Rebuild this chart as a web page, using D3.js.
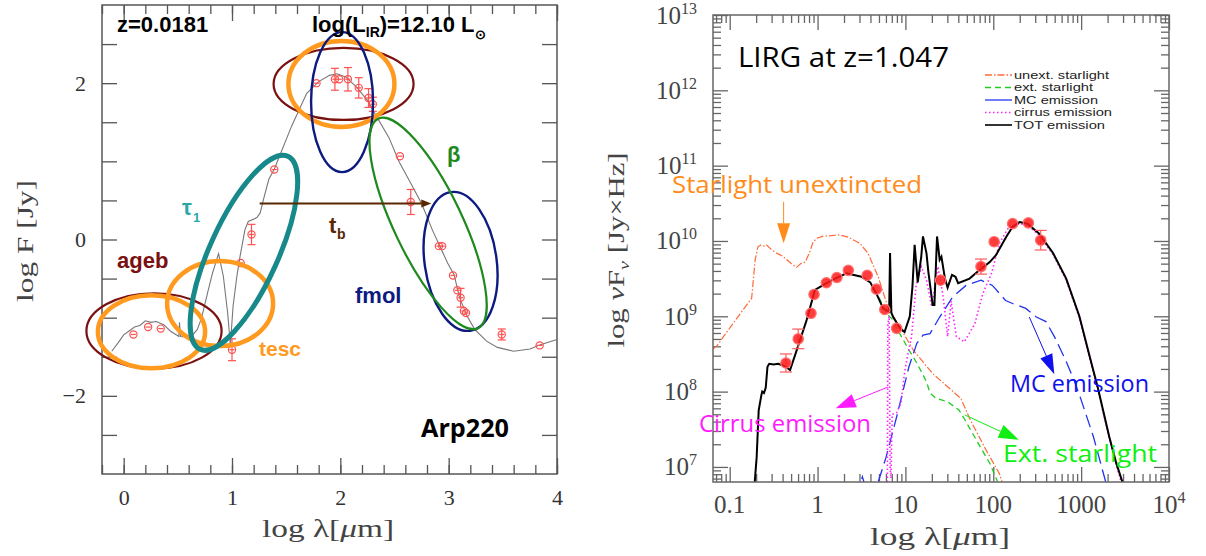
<!DOCTYPE html>
<html>
<head>
<meta charset="utf-8">
<script src="https://cdn.jsdelivr.net/npm/d3@7"></script>
<style>
  body { margin: 0; background: #fff; }
  svg { display: block; }
</style>
</head>
<body>
<svg id="chart" width="1206" height="556"></svg>
<script>
// ---------- left panel: Arp220 (log lambda [um], log F [Jy]) ----------
const arpModel = [[-0.11,-1.43],[-0.05,-1.32],[0.0,-1.22],[0.05,-1.17],[0.1,-1.12],[0.15,-1.1],[0.2,-1.04],
  [0.25,-1.06],[0.3,-1.05],[0.37,-1.09],[0.43,-1.17],[0.51,-1.24],[0.515,-1.06],[0.525,-1.24],[0.62,-1.25],
  [0.68,-1.15],[0.72,-1.0],[0.78,-0.65],[0.82,-0.43],[0.876,-0.18],[0.92,-0.47],[0.96,-0.94],[0.985,-1.35],
  [1.01,-0.85],[1.045,-0.47],[1.075,-0.21],[1.12,0.13],[1.15,0.23],[1.23,0.28],[1.26,0.34],[1.29,0.51],
  [1.34,0.77],[1.39,0.9],[1.55,1.45],[1.69,1.87],[1.8,2.02],[1.9,2.1],[1.97,2.12],[2.05,2.08],[2.15,1.95],
  [2.25,1.78],[2.34,1.56],[2.45,1.3],[2.54,1.0],[2.65,0.72],[2.75,0.46],[2.85,0.12],[2.92,-0.09],[2.99,-0.3],
  [3.05,-0.45],[3.10,-0.74],[3.17,-0.98],[3.24,-1.15],[3.35,-1.3],[3.45,-1.38],[3.6,-1.43],[3.75,-1.4],
  [3.84,-1.35],[4.0,-1.28]];
// [log lambda, log F, error]
const arpObs = [[0.09,-1.215,0],[0.226,-1.12,0],[0.342,-1.14,0],[1.0,-1.41,0.14],[1.08,-0.30,0],
  [1.18,0.064,0.13],[1.39,0.895,0],[1.78,2.0,0],[1.95,2.05,0.14],[1.99,2.05,0],[2.07,2.05,0.15],
  [2.17,1.94,0.13],[2.26,1.81,0.12],[2.30,1.73,0.09],[2.55,1.065,0],[2.65,0.48,0.16],[2.91,-0.085,0],
  [2.94,-0.085,0],[3.04,-0.46,0],[3.08,-0.65,0],[3.11,-0.745,0.12],[3.14,-0.915,0],[3.16,-0.94,0],
  [3.49,-1.215,0.07],[3.84,-1.355,0]];
const arpXTicks = [0, 1, 2, 3, 4];
const arpYLabels = [-2, 0, 2];

// ---------- right panel: LIRG at z=1.047 (log10 lambda, log10 nuFnu) ----------
const lirgUnext = [[-1.19,8.57],[-1.15,8.6],[-0.99,8.86],[-0.75,9.24],[-0.71,9.75],[-0.68,9.92],[-0.65,9.945],
  [-0.6,9.93],[-0.58,9.945],[-0.52,9.88],[-0.46,9.835],[-0.40,9.8],[-0.35,9.75],[-0.30,9.7],[-0.24,9.65],
  [-0.19,9.7],[-0.14,9.72],[-0.09,9.85],[-0.05,9.99],[0.0,10.04],[0.065,10.065],[0.15,10.07],[0.25,10.08],
  [0.35,10.05],[0.48,9.97],[0.575,9.835],[0.69,9.525],[0.80,9.125],[0.935,8.86],[1.09,8.55],[1.31,8.24],
  [1.50,8.045],[1.63,7.91],[1.74,7.62],[1.92,7.22],[2.07,6.91],[2.10,6.8]];
const lirgExt = [[0.70,9.25],[0.75,9.12],[0.80,9.02],[0.86,8.95],[0.90,8.84],[0.97,8.7],[1.04,8.55],
  [1.10,8.44],[1.17,8.29],[1.24,8.13],[1.28,7.98],[1.35,7.91],[1.48,7.865],[1.61,7.755],[1.68,7.62],
  [1.83,7.31],[1.96,7.05],[2.05,6.8]];
const lirgMC = [[0.44,6.6],[0.51,6.87],[0.58,6.6],[0.66,6.5],[0.69,6.8],[0.78,7.13],[0.91,7.71],[1.04,8.33],
  [1.13,8.64],[1.2,8.75],[1.28,8.77],[1.39,8.99],[1.54,9.26],[1.69,9.41],[1.86,9.48],[1.99,9.41],[2.14,9.21],
  [2.22,9.17],[2.37,9.105],[2.49,8.99],[2.60,8.93],[2.70,8.72],[2.83,8.40],[2.92,8.15],[3.0,7.89],[3.14,7.40],
  [3.28,6.8]];
const lirgCirrus = [[0.795,6.8],[0.80,8.9],[0.815,9.0],[0.825,7.0],[0.835,6.85],[0.85,7.7],[0.9,7.72],
  [0.95,7.85],[0.99,8.25],[1.02,8.45],[1.07,8.73],[1.12,9.39],[1.18,9.66],[1.24,9.48],[1.30,9.13],[1.37,9.66],
  [1.43,9.26],[1.48,8.73],[1.52,9.2],[1.58,8.73],[1.67,8.66],[1.79,8.9],[1.88,9.3],[1.98,9.57],[2.07,9.97],
  [2.18,10.19],[2.30,10.23],[2.39,10.21],[2.52,10.08],[2.68,9.82],[2.83,9.48],[2.98,8.98],[3.09,8.48],
  [3.19,8.03],[3.32,7.38],[3.40,7.03],[3.46,6.78]];
const lirgTot = [[-0.715,6.8],[-0.693,7.13],[-0.67,7.75],[-0.64,7.95],[-0.63,8.0],[-0.61,7.98],[-0.59,8.05],
  [-0.57,8.33],[-0.55,8.37],[-0.5,8.36],[-0.45,8.37],[-0.40,8.35],[-0.35,8.32],[-0.313,8.285],[-0.237,8.55],
  [-0.124,8.95],[-0.03,9.35],[0.103,9.44],[0.2,9.5],[0.33,9.57],[0.5,9.525],[0.6,9.45],[0.67,9.30],
  [0.746,9.105],[0.815,9.06],[0.825,9.84],[0.84,9.05],[0.86,8.99],[0.94,8.84],[0.99,8.79],[1.05,9.0],
  [1.08,9.39],[1.105,9.95],[1.14,9.45],[1.18,9.79],[1.2,10.06],[1.24,9.835],[1.26,9.6],[1.31,9.15],
  [1.33,9.15],[1.36,10.06],[1.39,9.75],[1.41,9.79],[1.45,9.5],[1.48,9.38],[1.53,9.55],[1.57,9.525],
  [1.60,9.44],[1.73,9.5],[1.84,9.61],[1.96,9.72],[2.03,9.81],[2.15,10.06],[2.22,10.19],[2.30,10.25],
  [2.39,10.23],[2.52,10.10],[2.68,9.84],[2.83,9.50],[2.98,9.0],[3.09,8.5],[3.19,8.05],[3.32,7.4],
  [3.40,7.05],[3.47,6.8]];
// [log lambda, log nuFnu, error in dex]
const lirgObs = [[-0.36,8.38,0.12],[-0.22,8.70,0.13],[-0.075,9.04,0],[-0.04,9.29,0],[0.10,9.445,0],
  [0.22,9.515,0],[0.35,9.61,0],[0.565,9.545,0],[0.67,9.36,0],[0.765,9.09,0],[0.90,8.84,0],[1.40,9.48,0],
  [1.86,9.66,0.1],[2.01,9.99,0],[2.22,10.23,0],[2.40,10.24,0],[2.54,10.01,0.13]];
const sedXTicks = [0.1, 1, 10, 100, 1000, 10000];
const sedXLabels = ["0.1", "1", "10", "100", "1000", "10|4"];
const sedYExp = [7, 8, 9, 10, 11, 12, 13];
const legendNames = ["unext. starlight", "ext. starlight", "MC emission", "cirrus emission", "TOT emission"];

const svg = d3.select("#chart");
const serif = "'Liberation Serif','DejaVu Serif',serif";
const sans = "'Liberation Sans',Arial,sans-serif";
const comic = "'Comic Sans MS','Open Sans',sans-serif";

function styleTicks(g, color) {
  g.select(".domain").remove();
  g.selectAll("line").attr("stroke", color).attr("stroke-width", 1.3);
  g.attr("font-family", serif);
}

function arrow(g, x1, y1, x2, y2, color, lw, headLen, headW) {
  const a = Math.atan2(y2 - y1, x2 - x1);
  const bx = x2 - headLen * Math.cos(a), by = y2 - headLen * Math.sin(a);
  g.append("line").attr("x1", x1).attr("y1", y1).attr("x2", bx).attr("y2", by)
    .attr("stroke", color).attr("stroke-width", lw);
  const px = -Math.sin(a) * headW / 2, py = Math.cos(a) * headW / 2;
  g.append("polygon")
    .attr("points", [[x2, y2], [bx + px, by + py], [bx - px, by - py]].map(p => p.join(",")).join(" "))
    .attr("fill", color);
}

// ================= LEFT PANEL =================
const xL = d3.scaleLinear().domain([-0.2, 4]).range([102, 557]);
const yL = d3.scaleLinear().domain([-3, 3]).range([474, 5]);
const left = svg.append("g");

const minorX = d3.range(0, 22).map(i => +(-0.2 + i * 0.2).toFixed(1));
const halfY = d3.range(-2.5, 2.51, 0.5);

left.append("g").attr("transform", "translate(0,474)")
  .call(d3.axisBottom(xL).tickValues(minorX).tickSize(-9).tickFormat(""))
  .call(g => styleTicks(g, "#555"));
left.append("g").attr("transform", "translate(0,474)")
  .call(d3.axisBottom(xL).tickValues(arpXTicks).tickSize(-16).tickPadding(15).tickFormat(d3.format("d")))
  .call(g => styleTicks(g, "#555"))
  .attr("font-size", 22).call(g => g.selectAll("text").attr("fill", "#333"));
left.append("g").attr("transform", "translate(0,5)")
  .call(d3.axisTop(xL).tickValues(minorX).tickSize(-9).tickFormat(""))
  .call(g => styleTicks(g, "#555"));
left.append("g").attr("transform", "translate(0,5)")
  .call(d3.axisTop(xL).tickValues(arpXTicks).tickSize(-16).tickFormat(""))
  .call(g => styleTicks(g, "#555"));
left.append("g").attr("transform", "translate(102,0)")
  .call(d3.axisLeft(yL).tickValues(halfY).tickSize(-15).tickPadding(16)
    .tickFormat(d => arpYLabels.includes(d) ? d3.format("d")(d) : ""))
  .call(g => styleTicks(g, "#555"))
  .attr("font-size", 22).call(g => g.selectAll("text").attr("fill", "#333"));
left.append("g").attr("transform", "translate(557,0)")
  .call(d3.axisRight(yL).tickValues(halfY).tickSize(-15).tickFormat(""))
  .call(g => styleTicks(g, "#555"));

left.append("rect").attr("x", 102).attr("y", 5).attr("width", 455).attr("height", 469)
  .attr("fill", "none").attr("stroke", "#555").attr("stroke-width", 1.5);

// axis titles
left.append("text").attr("x", 328).attr("y", 537).attr("text-anchor", "middle")
  .attr("font-family", serif).attr("font-size", 26).attr("fill", "#444")
  .attr("textLength", 132).attr("lengthAdjust", "spacingAndGlyphs")
  .call(t => {
    t.append("tspan").text("log  λ[");
    t.append("tspan").attr("font-style", "italic").text("μ");
    t.append("tspan").text("m]");
  });
left.append("text").attr("transform", "translate(33,241) rotate(-90)").attr("text-anchor", "middle")
  .attr("font-family", serif).attr("font-size", 23).attr("fill", "#444")
  .attr("textLength", 122).attr("lengthAdjust", "spacingAndGlyphs")
  .text("log F [Jy]");

// model and photometry
left.append("path").datum(arpModel)
  .attr("d", d3.line().x(d => xL(d[0])).y(d => yL(d[1])))
  .attr("fill", "none").attr("stroke", "#777").attr("stroke-width", 1.1);

const obsL = left.append("g").attr("stroke", "#ff5050").attr("fill", "none").attr("stroke-width", 1.2);
arpObs.filter(d => d[2] > 0).forEach(d => {
  const x = xL(d[0]), y0 = yL(d[1] - d[2]), y1 = yL(d[1] + d[2]);
  obsL.append("line").attr("x1", x).attr("x2", x).attr("y1", y0).attr("y2", y1);
  obsL.append("line").attr("x1", x - 4).attr("x2", x + 4).attr("y1", y0).attr("y2", y0);
  obsL.append("line").attr("x1", x - 4).attr("x2", x + 4).attr("y1", y1).attr("y2", y1);
});
obsL.selectAll("circle").data(arpObs).join("circle")
  .attr("cx", d => xL(d[0])).attr("cy", d => yL(d[1])).attr("r", 3.6);
obsL.selectAll("line.mid").data(arpObs).join("line").attr("class", "mid")
  .attr("x1", d => xL(d[0]) - 2.5).attr("x2", d => xL(d[0]) + 2.5)
  .attr("y1", d => yL(d[1])).attr("y2", d => yL(d[1]));

// parameter rings: centre in data units, radii / angle in pixels
const rings = [
  { c: [0.28, -1.17], rx: 67.6, ry: 37.7, a: 0, col: "#7a1010", w: 2.2 },
  { c: [2.03, 1.99], rx: 70, ry: 36, a: 0, col: "#7a1010", w: 2.2 },
  { c: [0.257, -1.18], rx: 53.6, ry: 36.5, a: 0, col: "#ff9a1f", w: 4.5 },
  { c: [0.89, -0.82], rx: 53, ry: 42.5, a: 0, col: "#ff9a1f", w: 4.5 },
  { c: [2.01, 1.99], rx: 53, ry: 43, a: 0, col: "#ff9a1f", w: 4.5 },
  { c: [2.016, 1.758], rx: 31, ry: 70, a: 0, col: "#0d1a80", w: 2.4 },
  { c: [3.11, -0.28], rx: 36, ry: 70, a: -8, col: "#0d1a80", w: 2.4 },
  { c: [2.81, 0.205], rx: 34, ry: 116, a: -25.5, col: "#1e8a1e", w: 2.2 },
  { c: [1.11, -0.17], rx: 34, ry: 106, a: 24.5, col: "#17898a", w: 5 }
];
left.selectAll("ellipse").data(rings).join("ellipse")
  .attr("transform", d => `translate(${xL(d.c[0])},${yL(d.c[1])}) rotate(${d.a})`)
  .attr("rx", d => d.rx).attr("ry", d => d.ry)
  .attr("fill", "none").attr("stroke", d => d.col).attr("stroke-width", d => d.w);

arrow(left, xL(1.255), yL(0.46), xL(2.84), yL(0.46), "#5a2800", 2, 10, 8);

// labels
const lab = (x, y, txt, col, size, fam) => left.append("text").attr("x", x).attr("y", y)
  .attr("font-family", fam || sans).attr("font-weight", "bold").attr("font-size", size)
  .attr("fill", col).text(txt);
lab(117, 32, "z=0.0181", "#000", 22);
left.append("text").attr("x", 312).attr("y", 32).attr("font-family", sans).attr("font-weight", "bold")
  .attr("font-size", 22).attr("fill", "#000")
  .call(t => {
    t.append("tspan").text("log(L");
    t.append("tspan").attr("font-size", 14).attr("dy", 5).text("IR");
    t.append("tspan").attr("dy", -5).text(")=12.10 L");
    t.append("tspan").attr("font-size", 13).attr("dy", 7).text("⊙");
  });
lab(182, 215, "τ", "#2aa8a8", 22);
lab(193, 222, "1", "#2aa8a8", 13);
lab(329, 233, "t", "#5a2800", 22);
lab(337, 239, "b", "#5a2800", 14);
lab(447, 162, "β", "#1e8a1e", 22);
lab(117, 268, "ageb", "#7a1010", 22);
lab(259, 356, "tesc", "#ff9a1f", 21);
lab(355, 303, "fmol", "#0d1a80", 22);
lab(421, 437, "Arp220", "#000", 25, comic).attr("textLength", 88).attr("lengthAdjust", "spacingAndGlyphs");

// ================= RIGHT PANEL =================
const xR = d3.scaleLog().domain([Math.pow(10, -1.19), 1e4]).range([713, 1169]);
const yR = d3.scaleLog().domain([Math.pow(10, 6.8), 1e13]).range([482, 15]);
const right = svg.append("g");
const P = v => Math.pow(10, v);

const minorXR = [], minorYR = [];
for (let e = -2; e <= 3; e++) for (let m = 2; m <= 9; m++) {
  const v = m * Math.pow(10, e);
  if (v >= xR.domain()[0] && v <= 1e4) minorXR.push(v);
}
for (let e = 6; e <= 12; e++) for (let m = 2; m <= 9; m++) {
  const v = m * Math.pow(10, e);
  if (v >= yR.domain()[0] && v <= 1e13) minorYR.push(v);
}
const majorYR = sedYExp.map(P);

[[d3.axisBottom, 482, sedXTicks, minorXR, xR], [d3.axisTop, 15, sedXTicks, minorXR, xR]].forEach(([ax, y, maj, min, s]) => {
  right.append("g").attr("transform", `translate(0,${y})`)
    .call(ax(s).tickValues(min).tickSize(-8).tickFormat("")).call(g => styleTicks(g, "#666"));
  right.append("g").attr("transform", `translate(0,${y})`)
    .call(ax(s).tickValues(maj).tickSize(-15).tickFormat("")).call(g => styleTicks(g, "#666"));
});
[[d3.axisLeft, 713], [d3.axisRight, 1169]].forEach(([ax, x]) => {
  right.append("g").attr("transform", `translate(${x},0)`)
    .call(ax(yR).tickValues(minorYR).tickSize(-8).tickFormat("")).call(g => styleTicks(g, "#666"));
  right.append("g").attr("transform", `translate(${x},0)`)
    .call(ax(yR).tickValues(majorYR).tickSize(-15).tickFormat("")).call(g => styleTicks(g, "#666"));
});

// tick labels
sedXTicks.forEach((v, i) => {
  const [base, sup] = sedXLabels[i].split("|");
  const t = right.append("text").attr("x", xR(v)).attr("y", 513).attr("text-anchor", "middle")
    .attr("font-family", serif).attr("font-size", 25).attr("fill", "#444");
  t.append("tspan").text(base);
  if (sup) t.append("tspan").attr("font-size", 16).attr("dy", -10).text(sup);
});
sedYExp.forEach(e => {
  const t = right.append("text").attr("x", 697).attr("y", yR(P(e)) + 8.5).attr("text-anchor", "end")
    .attr("font-family", serif).attr("font-size", 25).attr("fill", "#444");
  t.append("tspan").text("10");
  t.append("tspan").attr("font-size", 16).attr("dy", -10).text(e);
});

right.append("text").attr("x", 940).attr("y", 545).attr("text-anchor", "middle")
  .attr("font-family", serif).attr("font-size", 26).attr("fill", "#444")
  .attr("textLength", 140).attr("lengthAdjust", "spacingAndGlyphs")
  .call(t => {
    t.append("tspan").text("log  λ[");
    t.append("tspan").attr("font-style", "italic").text("μ");
    t.append("tspan").text("m]");
  });
right.append("text").attr("transform", "translate(624,250) rotate(-90)").attr("text-anchor", "middle")
  .attr("font-family", serif).attr("font-size", 23).attr("fill", "#444")
  .attr("textLength", 195).attr("lengthAdjust", "spacingAndGlyphs")
  .call(t => {
    t.append("tspan").text("log  ");
    t.append("tspan").attr("font-style", "italic").text("ν");
    t.append("tspan").text("F");
    t.append("tspan").attr("font-style", "italic").attr("font-size", 15).attr("dy", 5).text("ν");
    t.append("tspan").attr("dy", -5).text("  [Jy×Hz]");
  });

// curves
right.append("clipPath").attr("id", "clipR").append("rect")
  .attr("x", 713).attr("y", 15).attr("width", 456).attr("height", 467);
const plot = right.append("g").attr("clip-path", "url(#clipR)");
const lineR = d3.line().x(d => xR(P(d[0]))).y(d => yR(P(d[1])));
const curves = [
  { d: lirgUnext, col: "#ff6a3a", dash: "7,2,1.5,2", w: 1.2 },
  { d: lirgExt, col: "#22cc22", dash: "6,4", w: 1.3 },
  { d: lirgMC, col: "#2233ee", dash: "13,6", w: 1.3 },
  { d: lirgCirrus, col: "#ff22ff", dash: "1.5,2.5", w: 1.6 },
  { d: lirgTot, col: "#000", dash: null, w: 2 }
];
curves.forEach(c => {
  plot.append("path").datum(c.d).attr("d", lineR).attr("fill", "none")
    .attr("stroke", c.col).attr("stroke-width", c.w).attr("stroke-dasharray", c.dash);
});

// photometry
const obsR = plot.append("g");
lirgObs.filter(d => d[2] > 0).forEach(d => {
  const x = xR(P(d[0])), y0 = yR(P(d[1] - d[2])), y1 = yR(P(d[1] + d[2]));
  const g = obsR.append("g").attr("stroke", "#ff5a5a").attr("stroke-width", 1.2);
  g.append("line").attr("x1", x).attr("x2", x).attr("y1", y0).attr("y2", y1);
  g.append("line").attr("x1", x - 6).attr("x2", x + 6).attr("y1", y0).attr("y2", y0);
  g.append("line").attr("x1", x - 6).attr("x2", x + 6).attr("y1", y1).attr("y2", y1);
});
obsR.selectAll("circle").data(lirgObs).join("circle")
  .attr("cx", d => xR(P(d[0]))).attr("cy", d => yR(P(d[1]))).attr("r", 5.2)
  .attr("fill", "#ff1a1a").attr("fill-opacity", 0.85).attr("stroke", "#ff7070").attr("stroke-width", 1.2);

right.append("rect").attr("x", 713).attr("y", 15).attr("width", 456).attr("height", 467)
  .attr("fill", "none").attr("stroke", "#666").attr("stroke-width", 1.5);

// legend
const legWidths = [95, 79, 84, 98, 91];
const leg = right.append("g").attr("font-family", sans).attr("font-size", 10.5).attr("fill", "#222");
legendNames.forEach((name, i) => {
  const y = 75 + i * 12.5, c = curves[i];
  leg.append("line").attr("x1", 985).attr("x2", 1012).attr("y1", y).attr("y2", y)
    .attr("stroke", c.col).attr("stroke-width", i === 4 ? 1.6 : 1.3)
    .attr("stroke-dasharray", i === 2 ? null : c.dash);
  leg.append("text").attr("x", 1014).attr("y", y).attr("dy", "0.36em")
    .attr("textLength", legWidths[i]).attr("lengthAdjust", "spacingAndGlyphs").text(name);
});

// annotations
const note = (x, y, txt, col, size, len) => right.append("text").attr("x", x).attr("y", y)
  .attr("font-family", comic).attr("font-size", size).attr("fill", col)
  .attr("textLength", len).attr("lengthAdjust", "spacingAndGlyphs").text(txt);
note(738, 67, "LIRG at z=1.047", "#000", 28, 211);
note(672, 193, "Starlight unextincted", "#ff8c1a", 23, 250);
note(699, 432, "Cirrus emission", "#ff1aff", 23, 172);
note(1010, 392, "MC emission", "#1010ee", 23, 139);
note(1003, 462, "Ext. starlight", "#11ee11", 23, 154);

arrow(right, xR(P(-0.386)), yR(P(10.52)), xR(P(-0.386)), yR(P(9.97)), "#ff8c1a", 1, 20, 13);
arrow(right, xR(P(0.80)), yR(P(8.06)), xR(P(0.207)), yR(P(7.78)), "#ff1aff", 1, 20, 14);
arrow(right, xR(P(2.41)), yR(P(8.99)), xR(P(2.695)), yR(P(8.23)), "#1010ee", 1, 20, 13);
arrow(right, xR(P(1.676)), yR(P(7.69)), xR(P(2.29)), yR(P(7.36)), "#11ee11", 1, 20, 14);
</script>
</body>
</html>
